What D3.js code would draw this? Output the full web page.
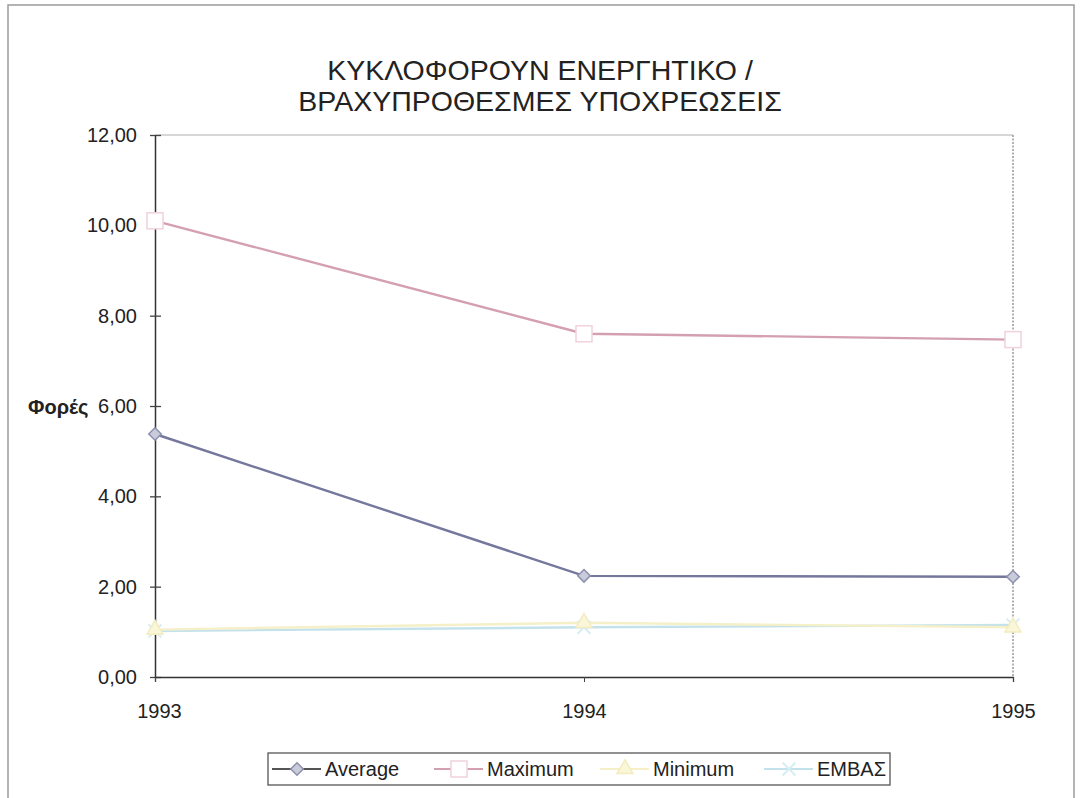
<!DOCTYPE html>
<html><head><meta charset="utf-8">
<script src="https://cdn.jsdelivr.net/npm/d3@7"></script>
<style>body{margin:0;background:#fff}svg{display:block}text{font-family:"Liberation Sans",Arial,sans-serif}</style>
</head><body>
<svg id="c" width="1080" height="798"></svg>
<script>
const years = ["1993", "1994", "1995"];
const average = [5.38, 2.24, 2.22];
const maximum = [10.1, 7.6, 7.47];
const minimum = [1.05, 1.2, 1.1];
const embas = [1.02, 1.1, 1.15];
const yTicks = [0, 2, 4, 6, 8, 10, 12];
const titleLines = ["ΚΥΚΛΟΦΟΡΟΥΝ ΕΝΕΡΓΗΤΙΚΟ /", "ΒΡΑΧΥΠΡΟΘΕΣΜΕΣ ΥΠΟΧΡΕΩΣΕΙΣ"];
const yLabel = "Φορές";

const series = [
  {name: "Average", values: average, line: "#75789c", fill: "#c9cbdb", stroke: "#8d90ad", shape: "diamond"},
  {name: "Maximum", values: maximum, line: "#d4a0b0", fill: "#ffffff", stroke: "#f0d2da", shape: "square"},
  {name: "Minimum", values: minimum, line: "#f5f0c8", fill: "#faf6d8", stroke: "#f3ecc0", shape: "triangle"},
  {name: "ΕΜΒΑΣ", values: embas, line: "#c4e2ec", fill: "none", stroke: "#d6eef3", shape: "cross"}
];

const svg = d3.select("#c");
const FONT = "Liberation Sans, Arial, sans-serif";
svg.append("rect").attr("x", 8).attr("y", 5).attr("width", 1066).attr("height", 800)
  .attr("fill", "none").attr("stroke", "#9a9a9a").attr("stroke-width", 1.5);

const L = 155, R = 1013, T = 135, B = 677;
const x = d3.scalePoint().domain(years).range([L, R]);
const y = d3.scaleLinear().domain([0, 12]).range([B, T]);

svg.append("g").selectAll("text").data(titleLines).join("text")
  .attr("x", 540).attr("y", (d, i) => 80 + i * 31).attr("text-anchor", "middle")
  .attr("font-size", 28.5).attr("fill", "#222").text(d => d);

svg.append("line").attr("x1", L).attr("x2", R).attr("y1", T).attr("y2", T).attr("stroke", "#b0b0b0").attr("stroke-width", 1.2);
svg.append("line").attr("x1", R).attr("x2", R).attr("y1", T).attr("y2", B).attr("stroke", "#999").attr("stroke-width", 1.5).attr("stroke-dasharray", "2,1.5");

const ya = svg.append("g").attr("transform", `translate(${L},0)`)
  .call(d3.axisLeft(y).tickValues(yTicks).tickSize(0).tickPadding(18).tickFormat(d => d3.format(".2f")(d).replace(".", ",")));
ya.attr("font-size", null).attr("font-family", null);
ya.select(".domain").attr("stroke", "#333").attr("stroke-width", 1.5);
ya.selectAll(".tick line").attr("x1", -5).attr("x2", 6).attr("stroke", "#444").attr("stroke-width", 1.3);
ya.selectAll(".tick text").attr("font-size", 20).attr("fill", "#222").attr("font-family", FONT);

const xa = svg.append("g").attr("transform", `translate(0,${B})`)
  .call(d3.axisBottom(x).tickSize(5).tickPadding(22));
xa.attr("font-size", null).attr("font-family", null);
xa.select(".domain").attr("stroke", "#333").attr("stroke-width", 1.3);
xa.selectAll(".tick line").attr("stroke", "#444");
xa.selectAll(".tick text").attr("font-size", 20).attr("fill", "#222").attr("font-family", FONT)
  .attr("dx", (d, i) => i === 0 ? 4 : 0);

svg.append("text").attr("x", 28).attr("y", 414).attr("font-size", 20).attr("font-weight", "bold").attr("fill", "#222").text(yLabel);

function marker(g, shape, s) {
  if (shape === "diamond") g.append("path").attr("d", d3.symbol(d3.symbolDiamond2, 100)());
  else if (shape === "square") g.append("rect").attr("x", -8).attr("y", -8).attr("width", 16).attr("height", 16);
  else if (shape === "triangle") g.append("path").attr("d", d3.symbol(d3.symbolTriangle, 110)());
  else g.append("path").attr("d", d3.symbol(d3.symbolX, 110)());
  g.selectAll("*").attr("fill", s.fill).attr("stroke", s.stroke).attr("stroke-width", shape === "cross" ? 2 : 1.5);
}

const line = d3.line().x((d, i) => x(years[i])).y(d => y(d));
[...series].reverse().forEach(s => {
  svg.append("path").datum(s.values).attr("d", line).attr("fill", "none")
    .attr("stroke", s.line).attr("stroke-width", 2.4);
});
[...series].reverse().forEach(s => {
  s.values.forEach((v, i) => {
    const g = svg.append("g").attr("transform", `translate(${x(years[i])},${y(v)})`);
    marker(g, s.shape, s);
  });
});

const lg = svg.append("g");
lg.append("rect").attr("x", 268).attr("y", 753).attr("width", 622).attr("height", 32)
  .attr("fill", "#fff").attr("stroke", "#555").attr("stroke-width", 1.3);
const legX = [272, 434, 600, 764];
series.forEach((s, i) => {
  const x0 = legX[i];
  lg.append("line").attr("x1", x0).attr("x2", x0 + 49).attr("y1", 769).attr("y2", 769)
    .attr("stroke", i === 0 ? "#555" : s.line).attr("stroke-width", 2);
  const g = lg.append("g").attr("transform", `translate(${x0 + 25},769)`);
  marker(g, s.shape, s);
  lg.append("text").attr("x", x0 + 53).attr("y", 776).attr("font-size", 20).attr("fill", "#222").text(s.name);
});
</script>
</body></html>
